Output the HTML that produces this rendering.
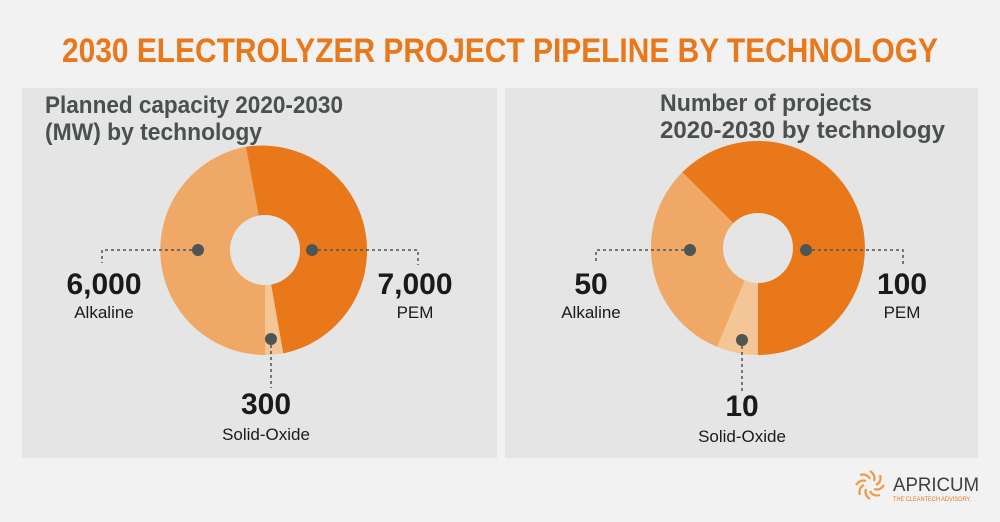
<!DOCTYPE html>
<html><head><meta charset="utf-8"><style>
html,body{margin:0;padding:0;background:#f2f2f2;}
svg{display:block;}
text{font-family:"Liberation Sans Narrow","Liberation Sans",sans-serif;}
</style></head><body>
<svg width="1000" height="522" viewBox="0 0 1000 522" xmlns="http://www.w3.org/2000/svg">
<rect width="1000" height="522" fill="#f2f2f2"/>
<text x="62" y="62" font-size="34" font-weight="bold" fill="#e8781a" textLength="876" lengthAdjust="spacingAndGlyphs">2030 ELECTROLYZER PROJECT PIPELINE BY TECHNOLOGY</text>
<rect x="22" y="88" width="475" height="370" fill="#e5e5e5"/>
<rect x="505" y="88" width="473" height="370" fill="#e5e5e5"/>

<g fill="#4a5050" font-size="24" font-weight="bold">
<text x="45" y="113" textLength="298" lengthAdjust="spacingAndGlyphs">Planned capacity 2020-2030</text>
<text x="45" y="140" textLength="217" lengthAdjust="spacingAndGlyphs">(MW) by technology</text>
<text x="660" y="111" textLength="212" lengthAdjust="spacingAndGlyphs">Number of projects</text>
<text x="660" y="138" textLength="285" lengthAdjust="spacingAndGlyphs">2020-2030 by technology</text>
</g>

<!-- left donut center 265,250 r105 -->
<g transform="translate(265,250)">
<path d="M0,0 L-19.1,-103.2 A105,105 0 0 1 18.2,103.4 Z" fill="#e8781a"/>
<path d="M0,0 L18.2,103.4 A105,105 0 0 1 0,105 Z" fill="#f4c595"/>
<path d="M0,0 L0,105 A105,105 0 0 1 -19.1,-103.2 Z" fill="#efa865"/>
<circle r="35" fill="#e5e5e5"/>
</g>
<!-- right donut center 758,248 r107 -->
<g transform="translate(758,248)">
<path d="M0,0 L-75.7,-75.7 A107,107 0 1 1 0,107 Z" fill="#e8781a"/>
<path d="M0,0 L0,107 A107,107 0 0 1 -40.9,98.9 Z" fill="#f4c595"/>
<path d="M0,0 L-40.9,98.9 A107,107 0 0 1 -75.7,-75.7 Z" fill="#efa865"/>
<circle r="35" fill="#e5e5e5"/>
</g>

<g stroke="#4d5555" stroke-width="1.5" stroke-dasharray="3,3" fill="none">
<path d="M198,250 H102 V263"/>
<path d="M312,250 H418 V265"/>
<path d="M271,339 V388"/>
<path d="M690,250 H596 V263"/>
<path d="M806,250 H903 V265"/>
<path d="M742,340 V392"/>
</g>
<g fill="#4d5555">
<circle cx="198" cy="250" r="6"/><circle cx="312" cy="250" r="6"/><circle cx="271" cy="339" r="6"/>
<circle cx="690" cy="250" r="6"/><circle cx="806" cy="250" r="6"/><circle cx="742" cy="340" r="6"/>
</g>

<g font-weight="bold" font-size="30" fill="#1a1a1a" text-anchor="middle">
<text x="104" y="294">6,000</text>
<text x="415" y="294">7,000</text>
<text x="266" y="414">300</text>
<text x="591" y="294">50</text>
<text x="902" y="294">100</text>
<text x="742" y="416">10</text>
</g>
<g font-size="17" fill="#1a1a1a" text-anchor="middle">
<text x="104" y="318">Alkaline</text>
<text x="415" y="318">PEM</text>
<text x="266" y="440">Solid-Oxide</text>
<text x="591" y="318">Alkaline</text>
<text x="902" y="318">PEM</text>
<text x="742" y="442">Solid-Oxide</text>
</g>

<!-- logo -->
<g transform="translate(870,485)" stroke="#ee9a4a" stroke-width="2.2" fill="none">
<path d="M0,-14 Q6,-10 4,-4"/><path d="M10,-10 Q12,-3 6,0"/><path d="M14,0 Q10,6 4,4"/>
<path d="M10,10 Q3,12 0,6"/><path d="M0,14 Q-6,10 -4,4"/><path d="M-10,10 Q-12,3 -6,0"/>
<path d="M-14,0 Q-10,-6 -4,-4"/><path d="M-10,-10 Q-3,-12 0,-6"/>
</g>
<text x="893" y="491" font-size="19" fill="#3a3f3f" textLength="86" lengthAdjust="spacingAndGlyphs">APRICUM</text>
<text x="893" y="501" font-size="6" fill="#e8781a" textLength="78" lengthAdjust="spacingAndGlyphs">THE CLEANTECH ADVISORY.</text>
</svg>
</body></html>
